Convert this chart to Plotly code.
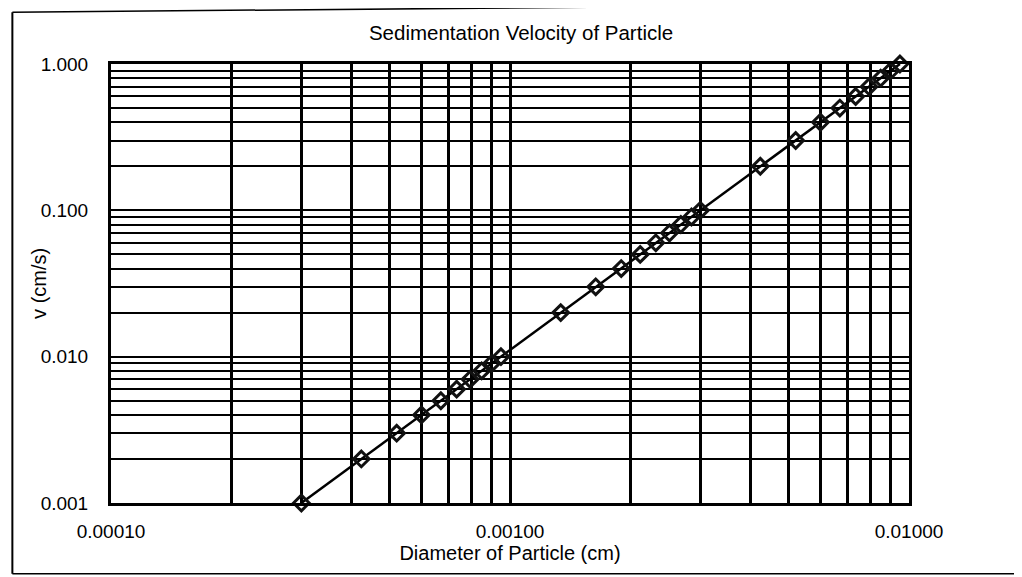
import plotly.graph_objects as go

# Data
diameter_cm = [0.000300, 0.000424, 0.000520, 0.000600, 0.000671, 0.000735, 0.000794, 0.000849,
               0.000900, 0.000949, 0.00134, 0.00164, 0.00190, 0.00212, 0.00232, 0.00251,
               0.00268, 0.00285, 0.00300, 0.00424, 0.00520, 0.00600, 0.00671, 0.00735,
               0.00794, 0.00849, 0.00900, 0.00949]
velocity_cms = [0.001, 0.002, 0.003, 0.004, 0.005, 0.006, 0.007, 0.008, 0.009,
                0.01, 0.02, 0.03, 0.04, 0.05, 0.06, 0.07, 0.08, 0.09,
                0.1, 0.2, 0.3, 0.4, 0.5, 0.6, 0.7, 0.8, 0.9, 1.0]

x_grid = [1e-4, 2e-4, 3e-4, 4e-4, 5e-4, 6e-4, 7e-4, 8e-4, 9e-4,
          1e-3, 2e-3, 3e-3, 4e-3, 5e-3, 6e-3, 7e-3, 8e-3, 9e-3, 1e-2]
x_labels = ["0.00010", "", "", "", "", "", "", "", "",
            "0.00100", "", "", "", "", "", "", "", "", "0.01000"]
y_grid = [1e-3, 2e-3, 3e-3, 4e-3, 5e-3, 6e-3, 7e-3, 8e-3, 9e-3,
          1e-2, 2e-2, 3e-2, 4e-2, 5e-2, 6e-2, 7e-2, 8e-2, 9e-2,
          0.1, 0.2, 0.3, 0.4, 0.5, 0.6, 0.7, 0.8, 0.9, 1.0]
y_labels = ["0.001", "", "", "", "", "", "", "", "",
            "0.010", "", "", "", "", "", "", "", "",
            "0.100", "", "", "", "", "", "", "", "", "1.000"]

FONT = "Liberation Sans, Arial, sans-serif"

fig = go.Figure()
fig.add_trace(go.Scatter(
    x=diameter_cm, y=velocity_cms, mode="lines+markers",
    line=dict(color="black", width=2.5),
    marker=dict(symbol="diamond-open", size=12, color="#111111", line=dict(width=3)),
    showlegend=False, cliponaxis=False,
))

fig.update_layout(
    width=1022, height=577,
    margin=dict(l=103, r=121, t=56, b=82),
    paper_bgcolor="white", plot_bgcolor="white",
    font=dict(family=FONT, color="black", size=19),
    title=dict(text="Sedimentation Velocity of Particle", x=0.502, xanchor="center",
               y=1 - 25 / 577, yanchor="middle", font=dict(size=20.5, family=FONT)),
)
fig.update_xaxes(
    type="log", range=[-4, -2], tickvals=x_grid, ticktext=x_labels,
    showgrid=True, gridcolor="black", gridwidth=3,
    showline=True, linecolor="black", linewidth=3, mirror=True,
    ticks="", ticklabelstandoff=9, tickfont=dict(size=19),
    title=dict(text="Diameter of Particle (cm)", standoff=0, font=dict(size=20)),
    zeroline=False,
)
fig.update_yaxes(
    type="log", range=[-3, 0], tickvals=y_grid, ticktext=y_labels,
    showgrid=True, gridcolor="black", gridwidth=2,
    showline=True, linecolor="black", linewidth=3, mirror=True,
    ticks="", ticklabelstandoff=16, tickfont=dict(size=19),
    zeroline=False,
)
fig.add_annotation(text="v (cm/s)", xref="paper", yref="paper", x=-0.091, y=0.5,
                   xanchor="center", yanchor="middle", textangle=-90, showarrow=False,
                   font=dict(size=20, family=FONT, color="black"))

# outer frame lines of the scanned page
fig.add_shape(type="line", xref="paper", yref="paper", x0=-0.1236, x1=-0.1236, y0=-0.161, y1=1.118,
              line=dict(color="black", width=2))
fig.add_shape(type="line", xref="paper", yref="paper", x0=-0.1236, x1=1.16, y0=1.118, y1=1.138,
              line=dict(color="black", width=1.5))
fig.add_shape(type="line", xref="paper", yref="paper", x0=-0.1236, x1=1.16, y0=-0.161, y1=-0.161,
              line=dict(color="black", width=1.5))

fig.write_html("out.html")
